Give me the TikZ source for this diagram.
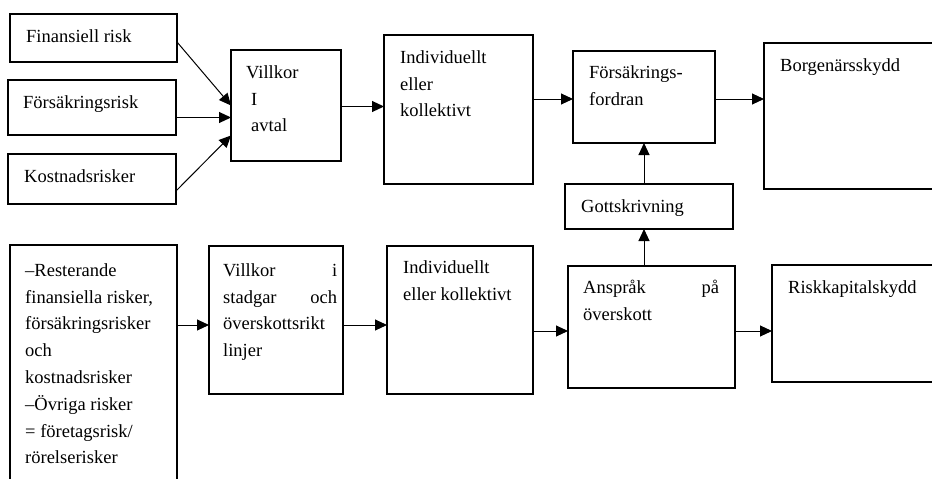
\documentclass[tikz,border=0pt]{standalone}
\usepackage{fontspec}
\setmainfont{Liberation Serif}
\usetikzlibrary{arrows.meta,calc}
\newcommand{\boxfont}{\fontsize{18.5pt}{26.8pt}\selectfont}

\begin{document}
\begin{tikzpicture}[x=1pt,y=-1pt,
    box/.style={draw,line width=1.1pt,rectangle,anchor=north west,
                inner sep=0pt,outer sep=0pt},
    txt/.style={anchor=north west,inner sep=0pt,yshift=18.76pt,
                align=left,font=\boxfont},
    arr/.style={-{Triangle[length=12pt,width=11pt]},line width=1pt}
  ]
    \useasboundingbox (0,0) rectangle (932,479);
    \clip (0,0) rectangle (932,479);

    % upper row
    \node[box,minimum width=167pt,minimum height=48pt] (fin) at (10,14) {};
    \node[box,minimum width=168pt,minimum height=55pt] (frs) at (8,80) {};
    \node[box,minimum width=168pt,minimum height=50pt] (kost) at (8,154) {};
    \node[box,minimum width=110pt,minimum height=111pt] (vil) at (231,50) {};
    \node[box,minimum width=149pt,minimum height=149pt] (ind) at (384,35) {};
    \node[box,minimum width=142pt,minimum height=92pt] (ford) at (573,51) {};
    \node[box,minimum width=200pt,minimum height=146pt] (borg) at (764,43) {};
    \node[box,minimum width=168pt,minimum height=45pt] (gott) at (565,184) {};

    % lower row
    \node[box,minimum width=167pt,minimum height=260pt] (rest) at (10,245) {};
    \node[box,minimum width=134pt,minimum height=148pt] (vst) at (209,246) {};
    \node[box,minimum width=146pt,minimum height=148pt] (ind2) at (387,246) {};
    \node[box,minimum width=167pt,minimum height=122pt] (ansp) at (568,266) {};
    \node[box,minimum width=200pt,minimum height=117pt] (rkap) at (772,265) {};

    % texts
    \node[txt] (finT) at (26,42) {\strut Finansiell risk};
    \node[txt] (frsT) at (23,108) {\strut Försäkringsrisk};
    \node[txt] (kostT) at (24,182) {\strut Kostnadsrisker};
    \node[txt] (vilT) at (246,78) {\strut Villkor\\\hspace*{5pt}I\\\hspace*{5pt}avtal};
    \node[txt] (indT) at (400,63) {\strut Individuellt\\eller\\kollektivt};
    \node[txt] (fordT) at (589,78) {\strut Försäkrings-\\fordran};
    \node[txt] (borgT) at (780,71) {\strut Borgenärsskydd};
    \node[txt] (gottT) at (581,212) {\strut Gottskrivning};
    \node[txt] (restT) at (25,276) {\strut –Resterande\\finansiella risker,\\försäkringsrisker\\och\\kostnadsrisker\\–Övriga risker\\= företagsrisk/\\rörelserisker};
    \node[txt,text width=114pt] (vstT) at (223,276) {\strut Villkor\hfill i\\stadgar\hfill och\\överskottsrikt\\linjer};
    \node[txt] (ind2T) at (403,273) {\strut Individuellt\\eller kollektivt};
    \node[txt,text width=136pt] (anspT) at (583,293) {\strut Anspråk\hfill på\\överskott};
    \node[txt] (rkapT) at (788,293) {\strut Riskkapitalskydd};

    % arrows, upper row
    \draw[arr] ([yshift=-4pt]fin.east) -- (vil.west);
    \draw[arr] ([yshift=-10pt]frs.east) -- ([yshift=-10pt]frs.east -| vil.west);
    \draw[arr] ([yshift=-12pt]kost.east) -- ([yshift=-30pt]vil.west);
    \draw[arr] ([yshift=-1pt]vil.east) -- ([yshift=-1pt]vil.east -| ind.west);
    \draw[arr] ([yshift=-2pt]ford.west -| ind.east) -- ([yshift=-2pt]ford.west);
    \draw[arr] ([yshift=-2pt]ford.east) -- ([yshift=-2pt]ford.east -| borg.west);
    \draw[arr] (gott.north -| ford.south) -- (ford.south);

    % arrows, lower row
    \draw[arr] ([yshift=-5pt]vst.west -| rest.east) -- ([yshift=-5pt]vst.west);
    \draw[arr] ([yshift=-5pt]vst.east) -- ([yshift=-5pt]vst.east -| ind2.west);
    \draw[arr] ([yshift=-4pt]ansp.west -| ind2.east) -- ([yshift=-4pt]ansp.west);
    \draw[arr] ([yshift=-4pt]ansp.east) -- ([yshift=-4pt]ansp.east -| rkap.west);
    \draw[arr] (ansp.north -| ford.south) -- (gott.south -| ford.south);
\end{tikzpicture}
\end{document}
